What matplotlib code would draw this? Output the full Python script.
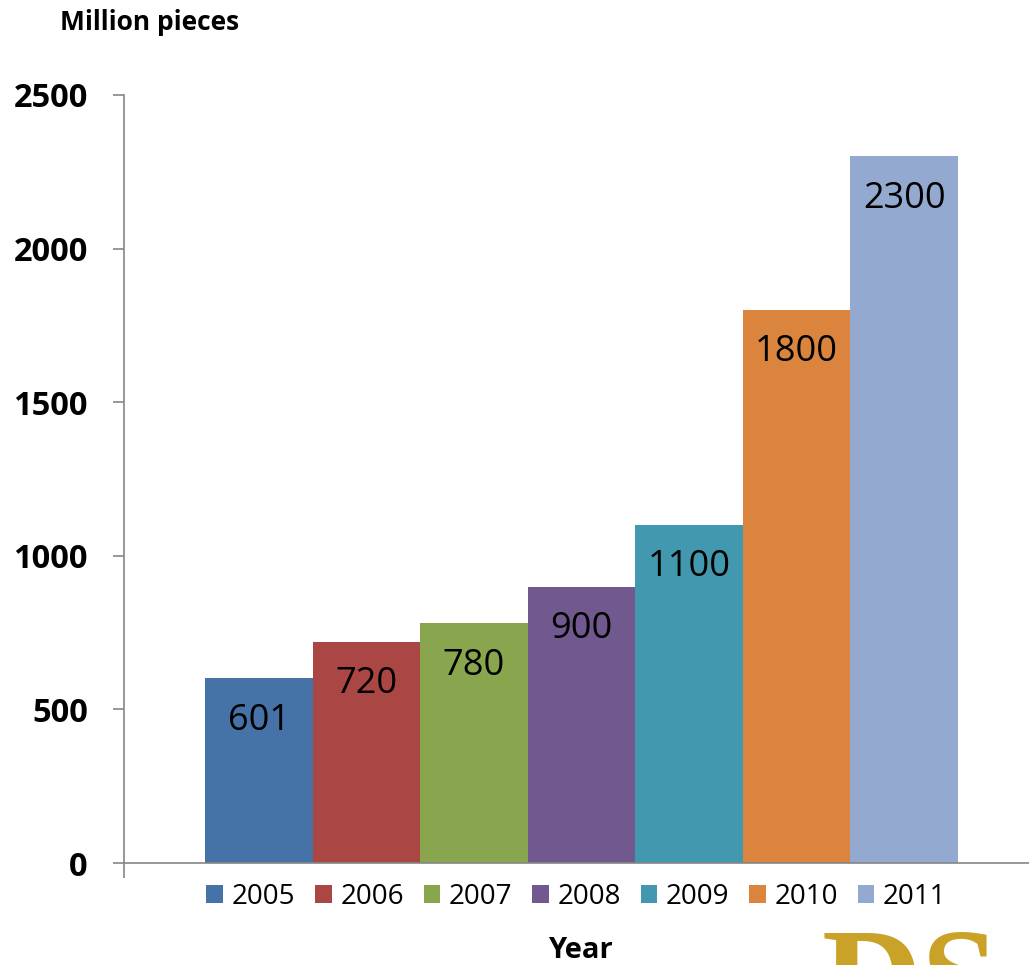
import matplotlib
matplotlib.use("Agg")
import matplotlib.pyplot as plt
from matplotlib.patches import Patch

years = ["2005", "2006", "2007", "2008", "2009", "2010", "2011"]
values = [601, 720, 780, 900, 1100, 1800, 2300]
colors = ["#4572A7", "#AA4643", "#89A54E", "#71588F", "#4198AF", "#DB843D", "#93A9CF"]
yticks = [0, 500, 1000, 1500, 2000, 2500]

plt.rcParams['font.family'] = ['Open Sans', 'DejaVu Sans']

fig = plt.figure(figsize=(10.29, 9.65), dpi=100)
ax = fig.add_axes([124/1029, 1-863/965, 1-124/1029, (863-95)/965])

x = list(range(len(years)))
ax.bar(x, values, width=1.0, color=colors, edgecolor='none')

for xi, v in zip(x, values):
    ax.annotate(str(v), (xi, v), xytext=(0, -30.5), textcoords='offset points',
                ha='center', va='center', fontsize=26, color='black')

ax.set_xlim(-1.253, 7.16)
ax.set_ylim(0, 2500)
ax.set_yticks(yticks)
ax.set_yticklabels([str(t) for t in yticks], fontsize=23.5, fontweight='bold')
ax.tick_params(axis='y', direction='out', length=8, width=1.2, color='#868686', pad=18)
ax.set_xticks([-1.253])
ax.set_xticklabels([''])
ax.tick_params(axis='x', direction='out', length=11, width=1.2, color='#868686')

for s in ['top', 'right']:
    ax.spines[s].set_visible(False)
for s in ['left', 'bottom']:
    ax.spines[s].set_color('#868686')
    ax.spines[s].set_linewidth(1.2)

fig.text(60/1029, 1-22/965, "Million pieces", fontsize=19, fontweight='bold',
         ha='left', va='center')
fig.text(580/1029, 1-950/965, "Year", fontsize=21, fontweight='bold',
         ha='center', va='center')

handles = [Patch(facecolor=c, edgecolor='none') for c in colors]
ax.legend(handles, years, loc='center', bbox_to_anchor=(0.5, -0.044),
          ncol=7, frameon=False, fontsize=20, handlelength=0.6, handleheight=0.6,
          handletextpad=0.32, columnspacing=0.7)

fig.text(910/1029, 1-928/965, "DS", fontsize=100, fontweight='bold',
         family=['Liberation Serif', 'DejaVu Serif'], color='#C9A227',
         ha='center', va='top')

fig.savefig("out.png", dpi=100)
